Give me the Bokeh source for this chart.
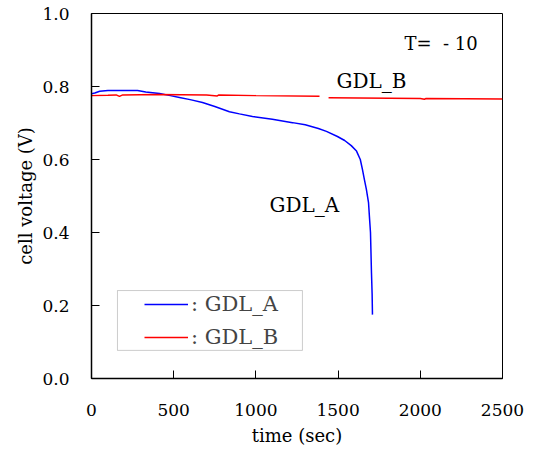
from bokeh.plotting import figure
from bokeh.models import Range1d, Label, Legend, LegendItem, FixedTicker, PrintfTickFormatter, BoxAnnotation
from bokeh.embed import file_html
from bokeh.resources import INLINE
import numpy as np

# GDL_A (blue)
t_a = [0, 20, 50, 100, 280, 330, 414, 480, 535, 600, 675, 750, 839, 900, 979, 1100,
       1223, 1300, 1380, 1429, 1496, 1540, 1580, 1612, 1635, 1648, 1660, 1672, 1685,
       1691, 1697, 1703, 1707, 1709]
v_a = [0.780, 0.782, 0.787, 0.789, 0.789, 0.785, 0.781, 0.775, 0.770, 0.764, 0.756,
       0.745, 0.731, 0.725, 0.718, 0.710, 0.701, 0.695, 0.685, 0.677, 0.663, 0.652,
       0.638, 0.623, 0.600, 0.573, 0.545, 0.518, 0.482, 0.440, 0.400, 0.290, 0.230, 0.175]

# GDL_B (red), gap in the record around 1390-1440 s
t_b = [0, 100, 150, 170, 190, 400, 700, 765, 775, 1000, 1387, 1388, 1442, 2000, 2025, 2035, 2500]
v_b = [0.775, 0.776, 0.777, 0.773, 0.777, 0.778, 0.777, 0.774, 0.777, 0.775, 0.773,
       np.nan, 0.769, 0.767, 0.765, 0.767, 0.766]

x_ticks = [0, 500, 1000, 1500, 2000, 2500]
y_ticks = [0.0, 0.2, 0.4, 0.6, 0.8, 1.0]

FONT = "DejaVu Serif"

p = figure(width=524, height=448, output_backend="svg", toolbar_location=None,
           x_range=Range1d(0, 2500), y_range=Range1d(0, 1.0),
           min_border_left=91, min_border_right=22, min_border_top=13, min_border_bottom=70)
p.background_fill_color = "white"
p.border_fill_color = "white"
p.outline_line_color = "black"
p.outline_line_width = 1
p.grid.visible = False

ra = p.line(t_a, v_a, line_color="#0000ff", line_width=1.5)
rb = p.line(t_b, v_b, line_color="#ff0000", line_width=1.5)

for ax in (p.xaxis[0], p.yaxis[0]):
    ax.axis_line_color = "black"
    ax.axis_line_width = 1.5
    ax.major_tick_in = 8
    ax.major_tick_out = 0
    ax.minor_tick_line_color = None
    ax.major_tick_line_color = "black"
    ax.major_label_text_font = FONT
    ax.major_label_text_font_size = "17px"
    ax.major_label_text_color = "black"
    ax.axis_label_text_font = FONT
    ax.axis_label_text_font_size = "18px"
    ax.axis_label_text_font_style = "normal"
    ax.axis_label_text_color = "black"

p.xaxis.ticker = FixedTicker(ticks=x_ticks)
p.yaxis.ticker = FixedTicker(ticks=y_ticks)
p.yaxis.formatter = PrintfTickFormatter(format="%.1f")
p.xaxis.axis_label = "time (sec)"
p.yaxis.axis_label = "cell voltage (V)"
p.xaxis.major_label_standoff = 25
p.yaxis.major_label_standoff = 22
p.xaxis.axis_label_standoff = 6
p.yaxis.axis_label_standoff = 3

# legend frame (decoration)
p.add_layout(BoxAnnotation(left=158, right=1283, bottom=0.077, top=0.241,
                           fill_color="white", fill_alpha=1.0,
                           line_color="#555555", line_width=1, level="underlay"))

legend = Legend(items=[LegendItem(label=": GDL_A", renderers=[ra]),
                       LegendItem(label=": GDL_B", renderers=[rb])],
                location=(53, 29))
legend.label_text_font = FONT
legend.label_text_font_size = "21px"
legend.border_line_color = None
legend.background_fill_alpha = 0
legend.glyph_width = 44
legend.label_standoff = 3
legend.label_height = 22
legend.padding = 3
legend.spacing = 9
legend.margin = 0
p.add_layout(legend, "center")

for txt, x, y, fs in [("T=\u00a0\u00a0- 10", 1904, 0.918, "18px"), ("GDL_B", 1490, 0.815, "20px"),
                      ("GDL_A", 1083, 0.474, "20px")]:
    p.add_layout(Label(x=x, y=y, text=txt, text_font=FONT, text_font_size=fs,
                       text_baseline="middle", text_color="black"))

open("out.html", "w").write(file_html(p, INLINE))
